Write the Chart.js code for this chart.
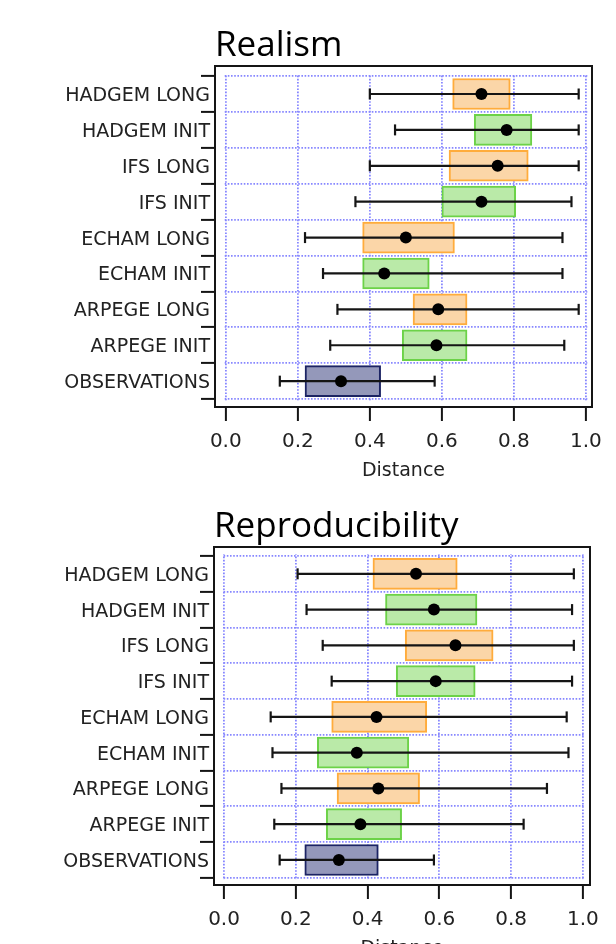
<!DOCTYPE html>
<html>
<head>
<meta charset="utf-8">
<script src="https://cdn.jsdelivr.net/npm/chart.js@4.4.1/dist/chart.umd.min.js"></script>
<style>
  html, body { margin: 0; padding: 0; background: #fff; width: 616px; height: 944px; overflow: hidden; }
  canvas { position: absolute; left: 0; }
</style>
</head>
<body>
<canvas id="realism" width="616" height="490" style="top:0"></canvas>
<canvas id="repro" width="616" height="487" style="top:481px"></canvas>
<script>
// rows, top to bottom
const rows = ['HADGEM LONG', 'HADGEM INIT', 'IFS LONG', 'IFS INIT', 'ECHAM LONG',
              'ECHAM INIT', 'ARPEGE LONG', 'ARPEGE INIT', 'OBSERVATIONS'];
const xTicks = [0, 0.2, 0.4, 0.6, 0.8, 1.0];

// Realism: whisker ends, box edges, median
const realismMin = [0.40, 0.47, 0.40, 0.36, 0.22, 0.27, 0.31, 0.29, 0.15];
const realismQ1  = [0.63, 0.69, 0.62, 0.60, 0.38, 0.38, 0.52, 0.49, 0.22];
const realismMed = [0.71, 0.78, 0.755, 0.71, 0.50, 0.44, 0.59, 0.585, 0.32];
const realismQ3  = [0.79, 0.85, 0.84, 0.805, 0.635, 0.565, 0.67, 0.67, 0.43];
const realismMax = [0.98, 0.98, 0.98, 0.96, 0.935, 0.935, 0.98, 0.94, 0.58];

// Reproducibility
const reproMin = [0.205, 0.23, 0.275, 0.30, 0.13, 0.135, 0.16, 0.14, 0.155];
const reproQ1  = [0.415, 0.45, 0.505, 0.48, 0.30, 0.26, 0.315, 0.285, 0.225];
const reproMed = [0.535, 0.585, 0.645, 0.59, 0.425, 0.37, 0.43, 0.38, 0.32];
const reproQ3  = [0.65, 0.705, 0.75, 0.70, 0.565, 0.515, 0.545, 0.495, 0.43];
const reproMax = [0.975, 0.97, 0.975, 0.97, 0.955, 0.96, 0.90, 0.835, 0.585];

const gridColor = 'rgb(135, 135, 255)';
const inkColor = '#151515';
const labelFont = 'DejaVu Sans';

function fillFor(name) {
    if (name.endsWith('LONG')) return 'rgb(251, 214, 168)';
    if (name.endsWith('INIT')) return 'rgb(186, 234, 168)';
    return 'rgb(148, 152, 186)';
}
function edgeFor(name) {
    if (name.endsWith('LONG')) return 'rgb(255, 172, 60)';
    if (name.endsWith('INIT')) return 'rgb(108, 210, 72)';
    return 'rgb(28, 36, 100)';
}

// white out the grid overhang around the 0..1 x 0..9 rectangle, then draw the frame
const framePlugin = {
    id: 'frame',
    beforeDatasetsDraw(chart) {
        const { ctx, chartArea: a, scales: { x, y } } = chart;
        const gl = x.getPixelForValue(xTicks[0]);
        const gr = x.getPixelForValue(xTicks[xTicks.length - 1]);
        const gt = y.getPixelForValue(0);
        const gb = y.getPixelForValue(rows.length);
        ctx.save();
        ctx.fillStyle = '#fff';
        ctx.fillRect(a.left, a.top, a.width, gt - a.top - 1.5);
        ctx.fillRect(a.left, gb + 1.5, a.width, a.bottom - gb - 1.5);
        ctx.fillRect(a.left, a.top, gl - a.left - 1.5, a.height);
        ctx.fillRect(gr + 1.5, a.top, a.right - gr - 1.5, a.height);
        ctx.restore();
    },
    afterDraw(chart) {
        const { ctx, chartArea: a } = chart;
        ctx.save();
        ctx.strokeStyle = inkColor;
        ctx.lineWidth = 2;
        ctx.strokeRect(a.left, a.top, a.width, a.height);
        ctx.restore();
    }
};

function makeChart(id, title, mins, q1s, meds, q3s, maxs, frame) {
    const boxes = {
        type: 'bar',
        data: rows.map((r, i) => ({ x: [q1s[i], q3s[i]], y: i + 0.5 })),
        backgroundColor: rows.map(fillFor),
        borderColor: rows.map(edgeFor),
        borderWidth: 2,
        borderSkipped: false,
        barThickness: 31,
        order: 2
    };
    const whiskers = rows.map((r, i) => ({
        type: 'line',
        data: [{ x: mins[i], y: i + 0.5 }, { x: maxs[i], y: i + 0.5 }],
        borderColor: inkColor,
        borderWidth: 2.2,
        pointStyle: 'line',
        pointRadius: 5.5,
        pointRotation: 90,
        pointBorderColor: inkColor,
        pointBorderWidth: 2.2,
        order: 1
    }));
    const medians = {
        type: 'scatter',
        data: rows.map((r, i) => ({ x: meds[i], y: i + 0.5 })),
        pointRadius: 6,
        pointBackgroundColor: '#000',
        pointBorderWidth: 0,
        order: 0
    };

    const gridOpts = {
        color: gridColor,
        lineWidth: 1.8,
        tickColor: inkColor,
        tickWidth: 2,
        tickLength: 14,
        tickBorderDash: [],
        offset: false
    };

    return new Chart(document.getElementById(id), {
        type: 'bar',
        data: { datasets: [boxes, ...whiskers, medians] },
        plugins: [framePlugin],
        options: {
            indexAxis: 'y',
            responsive: false,
            animation: false,
            events: [],
            layout: { padding: { left: 0, right: 616 - frame.right, top: 0, bottom: 0 } },
            plugins: {
                legend: { display: false },
                tooltip: { enabled: false },
                title: {
                    display: true,
                    text: title,
                    align: 'start',
                    fullSize: false,
                    color: '#000',
                    font: { family: 'Open Sans', size: 35, weight: 'normal', lineHeight: 1 },
                    padding: { top: 29, bottom: 2 }
                }
            },
            scales: {
                x: {
                    type: 'linear',
                    min: frame.xMin,
                    max: frame.xMax,
                    afterBuildTicks: s => { s.ticks = xTicks.map(v => ({ value: v })); },
                    afterFit: s => { s.height = 83; },
                    grid: gridOpts,
                    border: { display: false, dash: [1.6, 1.6] },
                    ticks: {
                        callback: v => v.toFixed(1),
                        padding: 9,
                        color: '#222',
                        maxRotation: 0,
                        autoSkip: false,
                        font: { family: labelFont, size: 20 }
                    },
                    title: {
                        display: true,
                        text: 'Distance',
                        color: '#222',
                        font: { family: labelFont, size: 19 },
                        padding: { top: 0, bottom: 8 }
                    }
                },
                y: {
                    type: 'linear',
                    reverse: true,
                    offset: false,
                    min: frame.yMin,
                    max: frame.yMax,
                    afterBuildTicks: s => {
                        s.ticks = rows.map((r, i) => ({ value: i })).concat([{ value: rows.length }]);
                    },
                    afterFit: s => { s.width = frame.left; },
                    grid: gridOpts,
                    border: { display: false, dash: [1.6, 1.6] },
                    ticks: {
                        callback: v => rows[v] || '',
                        labelOffset: 20,
                        padding: -9,
                        color: '#222',
                        autoSkip: false,
                        font: { family: labelFont, size: 19 }
                    }
                }
            }
        }
    });
}

makeChart('realism', 'Realism', realismMin, realismQ1, realismMed, realismQ3, realismMax,
    { left: 215, right: 592, xMin: -0.03, xMax: 1.017, yMin: -0.28, yMax: 9.22 });
makeChart('repro', 'Reproducibility', reproMin, reproQ1, reproMed, reproQ3, reproMax,
    { left: 214, right: 590, xMin: -0.028, xMax: 1.02, yMin: -0.25, yMax: 9.2 });
</script>
</body>
</html>
